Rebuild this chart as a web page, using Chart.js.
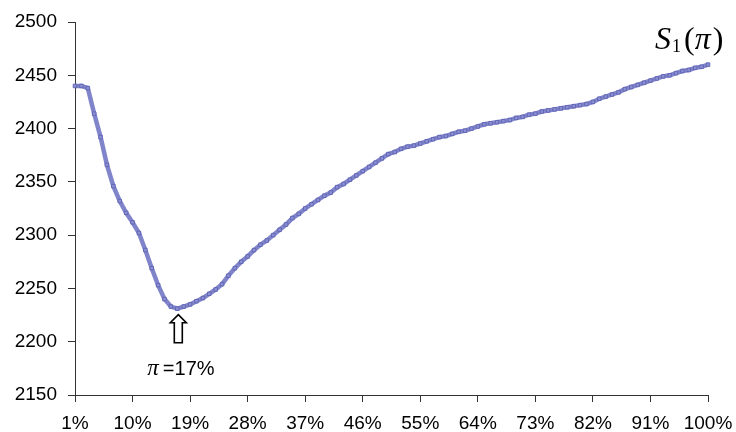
<!DOCTYPE html>
<html>
<head>
<meta charset="utf-8">
<script src="https://cdn.jsdelivr.net/npm/chart.js@4/dist/chart.umd.min.js"></script>
<style>
  html, body { margin: 0; padding: 0; background: #fff; }
  #c { display: block; }
</style>
</head>
<body>
<canvas id="c" width="736" height="432"></canvas>
<script>
// Categories: inflation share pi from 1% to 100%
const categories = [];
for (let i = 1; i <= 100; i++) categories.push(i + '%');

// Series S1(pi) values
const s1Values = [
  2440, 2440, 2438, 2414, 2392, 2366, 2346, 2332, 2321, 2312,
  2302, 2286, 2269, 2253, 2240, 2233, 2231, 2233, 2235, 2238,
  2241, 2245, 2249, 2254, 2262, 2269, 2275, 2280, 2286, 2291,
  2295, 2300, 2305, 2310, 2316, 2320, 2325, 2329, 2333, 2337,
  2340, 2345, 2348, 2352, 2356, 2360, 2364, 2368, 2372, 2376,
  2378, 2381, 2383, 2384, 2386, 2388, 2390, 2392, 2393, 2395,
  2397, 2398, 2400, 2402, 2404, 2405, 2406, 2407, 2408, 2410,
  2411, 2413, 2414, 2416, 2417, 2418, 2419, 2420, 2421, 2422,
  2423, 2425, 2428, 2430, 2432, 2434, 2437, 2439, 2441, 2443,
  2445, 2447, 2449, 2450, 2452, 2454, 2455, 2457, 2458, 2460
];

// Tick labels
const xTickEvery = 9;
const yTicks = [2150, 2200, 2250, 2300, 2350, 2400, 2450, 2500];
const minLabel = '=17%';
const minIndex = 16;

const annotPlugin = {
  id: 'annot',
  afterDraw(chart) {
    const ctx = chart.ctx;
    const xs = chart.scales.x, ys = chart.scales.y;
    const ca = chart.chartArea;
    ctx.save();
    ctx.fillStyle = '#000';
    ctx.textBaseline = 'alphabetic';
    const serif = '"Liberation Serif", "Times New Roman", serif';
    // S1(pi) label
    let x = ca.right - 53, y = 49;
    ctx.font = 'italic 32px ' + serif;
    ctx.fillText('S', x, y);
    x += ctx.measureText('S').width + 1;
    ctx.font = '18px ' + serif;
    ctx.fillText('1', x, y + 3);
    x += ctx.measureText('1').width + 3;
    ctx.font = '32px ' + serif;
    ctx.fillText('(', x, y);
    x += ctx.measureText('(').width;
    ctx.font = 'italic 32px ' + serif;
    ctx.fillText('π', x, y);
    x += ctx.measureText('π').width + 2;
    ctx.font = '32px ' + serif;
    ctx.fillText(')', x, y);

    // Arrow at minimum
    const ax = xs.getPixelForValue(minIndex) + 1;
    const ay = ys.getPixelForValue(s1Values[minIndex]) + 6;
    ctx.beginPath();
    ctx.moveTo(ax, ay);
    ctx.lineTo(ax + 8, ay + 8);
    ctx.lineTo(ax + 4, ay + 8);
    ctx.lineTo(ax + 4, ay + 28);
    ctx.lineTo(ax - 4, ay + 28);
    ctx.lineTo(ax - 4, ay + 8);
    ctx.lineTo(ax - 8, ay + 8);
    ctx.closePath();
    ctx.fillStyle = '#fff';
    ctx.fill();
    ctx.lineWidth = 1.6;
    ctx.strokeStyle = '#000';
    ctx.stroke();

    // pi = 17% label
    ctx.fillStyle = '#000';
    let tx = ax - 31, ty = ay + 60;
    ctx.font = 'italic 23px ' + serif;
    ctx.fillText('π', tx, ty);
    tx += ctx.measureText('π').width + 4;
    ctx.font = '20px "Liberation Sans", Arial, sans-serif';
    ctx.fillText(minLabel, tx, ty);
    ctx.restore();
  }
};

new Chart(document.getElementById('c'), {
  type: 'line',
  data: {
    labels: categories,
    datasets: [{
      data: s1Values,
      borderColor: '#8084ca',
      borderWidth: 4.5,
      pointStyle: 'rect',
      pointRadius: 2.5,
      pointBackgroundColor: '#8b8fd3',
      pointBorderColor: '#6468b5',
      pointBorderWidth: 1,
      tension: 0,
      fill: false
    }]
  },
  options: {
    responsive: false,
    animation: false,
    devicePixelRatio: 1,
    layout: { padding: { top: 22, right: 28, left: 0, bottom: 0 } },
    plugins: { legend: { display: false }, tooltip: { enabled: false } },
    scales: {
      x: {
        type: 'category',
        offset: false,
        afterFit(scale) { scale.height = 37; scale.paddingRight = 0; scale.paddingLeft = 0; },
        border: { display: true, color: '#333', width: 1 },
        grid: { display: true, drawOnChartArea: false, tickLength: 7, color: '#333' },
        ticks: {
          autoSkip: false,
          maxRotation: 0,
          padding: 10,
          color: '#000',
          font: { family: '"Liberation Sans", Arial, sans-serif', size: 19 },
          callback(val, idx) { return idx % xTickEvery === 0 ? categories[idx] : null; }
        }
      },
      y: {
        min: yTicks[0],
        max: yTicks[yTicks.length - 1],
        afterFit(scale) { scale.width = 75; scale.paddingTop = 0; scale.paddingBottom = 0; },
        afterBuildTicks(scale) { scale.ticks = yTicks.map(v => ({ value: v })); },
        border: { display: true, color: '#333', width: 1 },
        grid: { display: true, drawOnChartArea: false, tickLength: 7, color: '#333' },
        ticks: {
          padding: 11,
          color: '#000',
          font: { family: '"Liberation Sans", Arial, sans-serif', size: 19 },
          callback(v) { return String(v); }
        }
      }
    }
  },
  plugins: [annotPlugin]
});
</script>
</body>
</html>
